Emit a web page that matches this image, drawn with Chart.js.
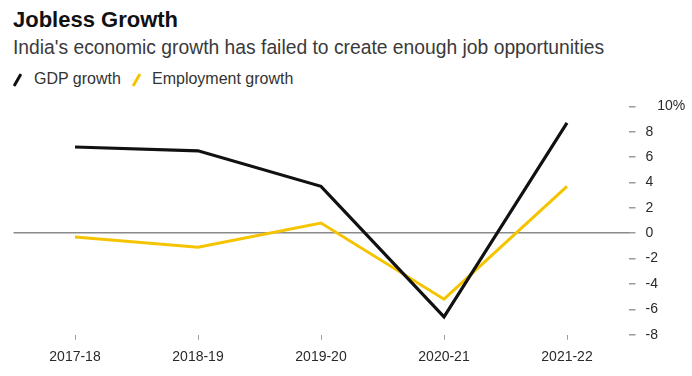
<!DOCTYPE html>
<html>
<head>
<meta charset="utf-8">
<script src="https://cdn.jsdelivr.net/npm/chart.js@4"></script>
<style>
  body { margin: 0; background: #fff; font-family: 'Liberation Sans', Arial, sans-serif; }
  #page { position: relative; width: 692px; height: 376px; overflow: hidden; }
  .title { position: absolute; left: 13px; top: 9px; font-size: 22px; line-height: 22px; font-weight: bold; color: #111; }
  .subtitle { position: absolute; left: 13px; top: 38px; font-size: 19.3px; line-height: 19px; color: #3a3a3a; }
  .legend-text { position: absolute; top: 71px; font-size: 16px; line-height: 16px; color: #333; }
  .slash { position: absolute; top: 73px; width: 3px; height: 14px; border-radius: 1px; transform: rotate(30deg); }
  #chart-wrap { position: absolute; left: 0; top: 88px; width: 692px; height: 288px; }
</style>
</head>
<body>
<div id="page">
  <div class="title">Jobless Growth</div>
  <div class="subtitle">India's economic growth has failed to create enough job opportunities</div>
  <div class="slash" style="left:16px; background:#111;"></div>
  <div class="legend-text" style="left:34px;">GDP growth</div>
  <div class="slash" style="left:135px; background:#f5c400;"></div>
  <div class="legend-text" style="left:152px;">Employment growth</div>
  <div id="chart-wrap"><canvas id="chart"></canvas></div>
</div>
<script>
"use strict";

const years = ['2017-18', '2018-19', '2019-20', '2020-21', '2021-22'];
const gdpGrowth = [6.8, 6.5, 3.7, -6.6, 8.7];
const employmentGrowth = [-0.3, -1.1, 0.8, -5.2, 3.7];
const yMin = -8;
const yMax = 10;
const yStep = 2;

const tickFont = { family: "'Liberation Sans', Arial, sans-serif", size: 14 };

const ctx = document.getElementById('chart').getContext('2d');

new Chart(ctx, {
    type: 'line',
    data: {
        labels: years,
        datasets: [
            {
                label: 'GDP growth',
                data: gdpGrowth,
                borderColor: '#111111',
                borderWidth: 3.2,
                pointRadius: 0,
                tension: 0,
                borderJoinStyle: 'miter'
            },
            {
                label: 'Employment growth',
                data: employmentGrowth,
                borderColor: '#f5c400',
                borderWidth: 3,
                pointRadius: 0,
                tension: 0,
                borderJoinStyle: 'miter'
            }
        ]
    },
    options: {
        responsive: true,
        maintainAspectRatio: false,
        animation: false,
        layout: {
            padding: { top: 15, left: 13.5, right: 0, bottom: 0 }
        },
        plugins: {
            legend: { display: false },
            title: { display: false },
            tooltip: { enabled: false }
        },
        scales: {
            x: {
                offset: true,
                border: { display: false },
                grid: {
                    drawOnChartArea: false,
                    tickLength: 5,
                    tickColor: '#9a9a9a'
                },
                ticks: {
                    color: '#2a2a2a',
                    font: tickFont,
                    padding: 9,
                    maxRotation: 0
                },
                afterFit: axis => { axis.height = 41.3; }
            },
            y: {
                position: 'right',
                min: yMin,
                max: yMax,
                border: { display: false },
                grid: {
                    color: c => (c.tick && c.tick.value === 0) ? '#8a8a8a' : 'transparent',
                    lineWidth: 1.5,
                    tickLength: 7,
                    tickColor: '#9a9a9a'
                },
                ticks: {
                    stepSize: yStep,
                    color: '#2a2a2a',
                    font: tickFont,
                    padding: 10,
                    callback: v => v === yMax ? '   ' + v + '%' : v
                },
                afterFit: axis => { axis.width = 63.5; }
            }
        }
    }
});
</script>
</body>
</html>
